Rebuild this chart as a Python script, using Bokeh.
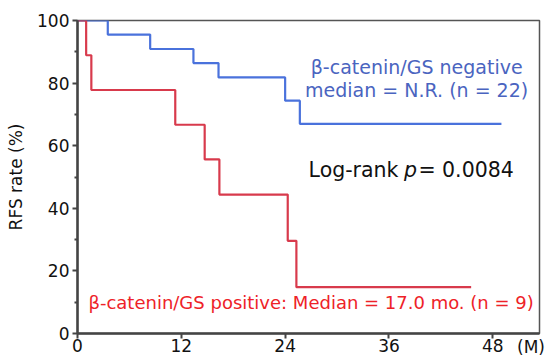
from bokeh.plotting import figure
from bokeh.models import Range1d, FixedTicker, Label
from bokeh.embed import file_html
from bokeh.resources import INLINE

# Kaplan-Meier step data (months, RFS %)
neg_time = [0, 3.5, 8.4, 13.4, 16.3, 24.0, 25.7, 49.0]
neg_surv = [100, 95.5, 90.9, 86.4, 81.8, 74.4, 67.0, 67.0]
pos_time = [0, 1.0, 1.6, 11.3, 14.7, 16.4, 24.3, 25.3, 45.5]
pos_surv = [100, 88.9, 77.8, 66.7, 55.6, 44.4, 29.6, 14.8, 14.8]
x_ticks = [0, 12, 24, 36, 48]
y_ticks = [0, 20, 40, 60, 80, 100]

FONT = "DejaVu Sans"

p = figure(width=545, height=359, output_backend="svg", toolbar_location=None,
           x_range=Range1d(0, 53.4), y_range=Range1d(0, 100),
           min_border_left=77, min_border_right=6, min_border_top=20, min_border_bottom=25)
p.background_fill_color = None
p.border_fill_color = "white"
p.outline_line_color = "#555555"
p.outline_line_width = 1.5
p.grid.visible = False

p.step(neg_time, neg_surv, mode="after", line_color="#4a72dc", line_width=2.2)
p.step(pos_time, pos_surv, mode="after", line_color="#d83a4c", line_width=2.2)

for ax in (p.xaxis[0], p.yaxis[0]):
    ax.axis_line_color = "#444444"
    ax.axis_line_width = 2.5
    ax.major_tick_line_color = "#444444"
    ax.major_tick_line_width = 2
    ax.major_tick_in = 0
    ax.major_tick_out = 5
    ax.minor_tick_in = 0
    ax.minor_tick_out = 3
    ax.minor_tick_line_color = "#444444"
    ax.minor_tick_line_width = 2
    ax.major_label_text_font = FONT
    ax.major_label_text_font_size = "17px"
    ax.major_label_text_color = "#111111"

p.xaxis.ticker = FixedTicker(ticks=x_ticks)
p.xaxis.major_label_standoff = 0
p.xaxis.axis_label = "(M)\u2003"
p.xaxis.axis_label_align = "end"
p.xaxis.axis_label_standoff = -18
p.xaxis.axis_label_text_font = FONT
p.xaxis.axis_label_text_font_size = "17px"
p.xaxis.axis_label_text_font_style = "normal"
p.xaxis.axis_label_text_color = "#111111"

p.yaxis.ticker = FixedTicker(ticks=y_ticks, minor_ticks=[10, 30, 50, 70, 90])
p.yaxis.major_label_standoff = 3
p.yaxis.axis_label = "RFS rate (%)"
p.yaxis.axis_label_text_font = FONT
p.yaxis.axis_label_text_font_size = "17px"
p.yaxis.axis_label_text_font_style = "normal"
p.yaxis.axis_label_text_color = "#111111"
p.yaxis.axis_label_standoff = 8

def lab(x, y, text, color, size, align="center", style="normal"):
    p.add_layout(Label(x=x, y=y, text=text, text_color=color, text_font=FONT,
                       text_font_size=size, text_align=align, text_baseline="middle",
                       text_font_style=style))

lab(39.2, 85.0, "β-catenin/GS negative", "#4a64c0", "19px")
lab(39.2, 77.7, "median = N.R. (n = 22)", "#4a64c0", "19px")
lab(37.1, 52.2, "Log-rank", "#111111", "20.5px", align="right")
lab(38.5, 52.2, "p", "#111111", "20.5px", style="italic")
lab(39.4, 52.2, "= 0.0084", "#111111", "20.5px", align="left")
lab(27.0, 9.9, "β-catenin/GS positive: Median = 17.0 mo. (n = 9)", "#ee2228", "18px")

open("out.html", "w").write(file_html(p, INLINE))
